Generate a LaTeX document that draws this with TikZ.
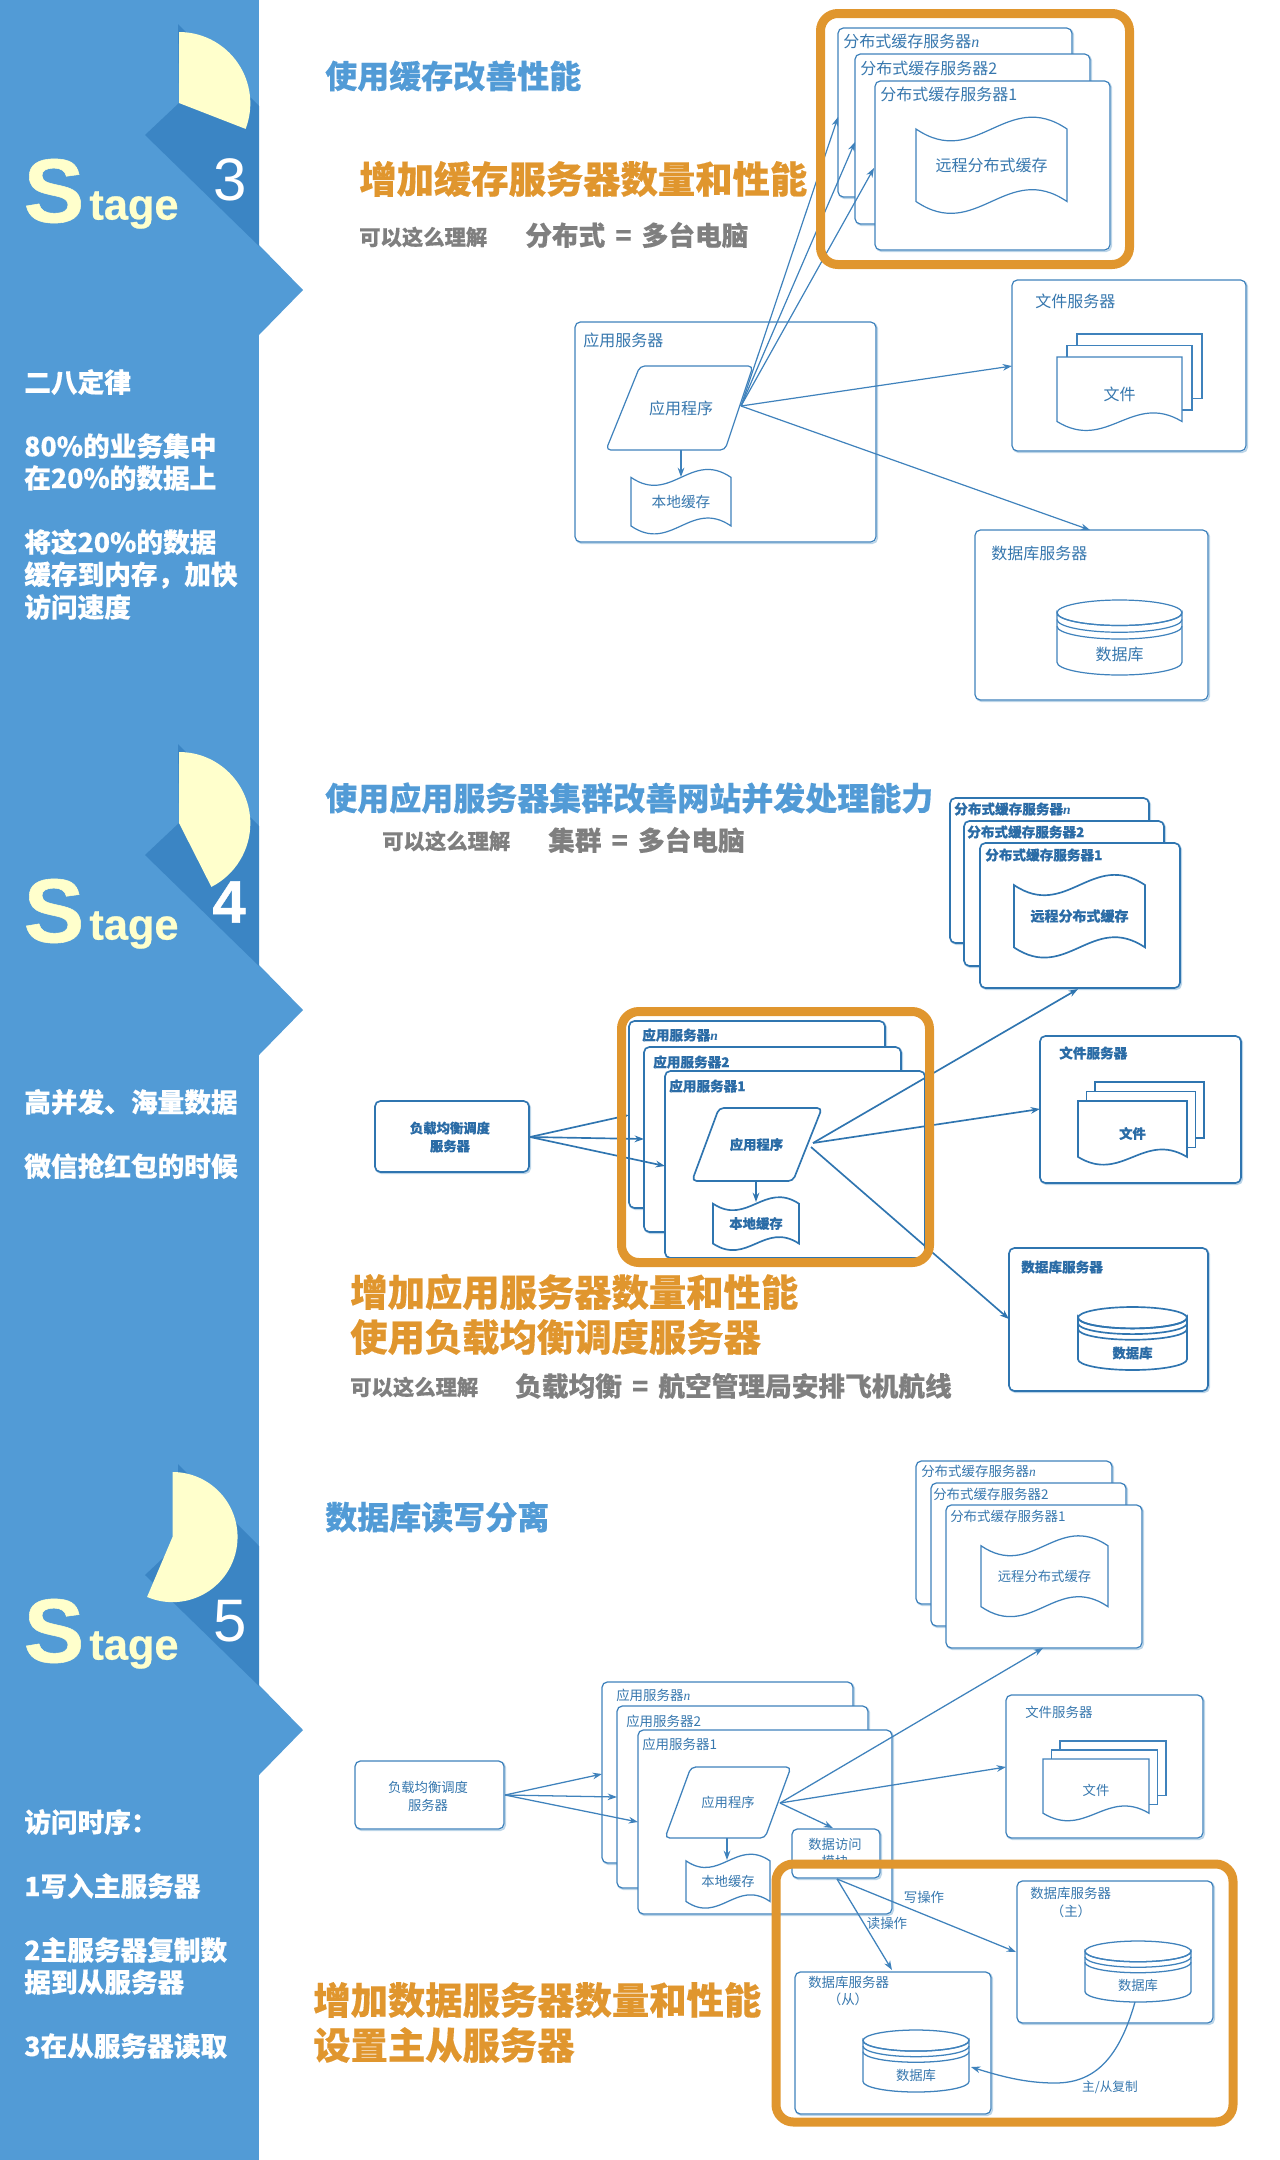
\documentclass[tikz,border=0pt]{standalone}
\usepackage{fontspec}
\usetikzlibrary{arrows.meta}
\setmainfont{Noto Sans CJK SC}[BoldFeatures={FakeBold=0.35}]
\newfontfamily\arialf{Liberation Sans}[BoldFeatures={FakeBold=0.6}]
\newfontfamily\serf{Liberation Serif}
\definecolor{panel}{HTML}{529BD6}
\definecolor{panelD}{HTML}{3B85C4}
\definecolor{cream}{HTML}{FFFFCC}
\definecolor{orng}{HTML}{E0962E}
\definecolor{grayt}{HTML}{7F7F7F}
\definecolor{ln}{HTML}{3F82BC}
\definecolor{shd}{HTML}{BCD5E8}
\definecolor{dtx}{HTML}{3677AE}
\newcommand\fs[2]{\fontsize{#1}{#2}\selectfont}
\newcommand\nn{{\serf\itshape n}}
\newcommand\lw{0.9pt}
\newcommand\eqs{\hspace{3pt} = \hspace{3pt}}
\tikzset{
  card/.style={draw=ln,fill=white,line width=\lw,rounded corners=4pt,inner sep=0pt,outer sep=0pt,
    preaction={draw=shd,line width=1.2pt,transform canvas={xshift=1pt,yshift=-1pt}}},
  shapeline/.style={draw=ln,fill=white,line width=\lw},
  arr/.style={draw=ln,line width=\lw,-{Stealth[length=7pt,width=5pt]}},
  dtext/.style={inner sep=0pt,text=dtx},
  labl/.style={dtext,anchor=west},
  titleb/.style={inner sep=0pt,anchor=west,text=panel,font=\bfseries\fs{24}{24}},
  titleo/.style={inner sep=0pt,anchor=west,text=orng,font=\bfseries\fs{28}{28}},
  graya/.style={inner sep=0pt,anchor=west,text=grayt,font=\bfseries\fs{16}{16}},
  grayb/.style={inner sep=0pt,anchor=west,text=grayt,font=\bfseries\fs{20}{20}},
  lefttext/.style={inner sep=0pt,anchor=west,text=white,font=\bfseries\fs{20}{21}},
  orangebox/.style={draw=orng,line width=6.75pt,rounded corners=13pt},
  bigS/.style={inner sep=0pt,text=cream,font=\arialf\bfseries\fs{68}{68}},
  tage/.style={inner sep=0pt,text=cream,font=\arialf\bfseries\fs{32.5}{33}},
  stagenum/.style={inner sep=0pt,text=white,font=\arialf\fs{45}{45}},
}
\newcommand\cardbox[5]{%
  \pgfmathsetmacro\ww{(#4-#2)*0.75}\pgfmathsetmacro\hh{(#5-#3)*0.75}%
  \node[card,minimum width=\ww pt,minimum height=\hh pt] (#1) at ({(#2+#4)/2},{(#3+#5)/2}) {};}
% wave document: name x1 y1 x2 y2 font text
\newcommand\wavedoc[7]{%
  \pgfmathsetmacro\ww{(#4-#2)*0.75}\pgfmathsetmacro\hh{(#5-#3)*0.75}%
  \begin{scope}[shift={(#2,#3)},x=\ww pt,y=-\hh pt]
    \draw[shapeline] (0,.14) .. controls (.4,.55) and (.6,-.27) .. (1,.14) -- (1,.865)
      .. controls (.6,.455) and (.4,1.275) .. (0,.865) -- cycle;
  \end{scope}
  \node[dtext,font=#6] (#1) at ({(#2+#4)/2},{(#3+#5)/2}) {#7};}
% file stack: name x1 y1 x2 y2 dx dy font text
\newcommand\filestack[9]{%
  \pgfmathsetmacro\ww{(#4-#2)*0.75}\pgfmathsetmacro\hh{(#5-#3)*0.75}%
  \pgfmathsetmacro\ee{#3+0.86*(#5-#3)}%
  \draw[shapeline] ({#2+2*#6},{#3-2*#7}) rectangle ({#4+2*#6},{\ee-2*#7});
  \draw[shapeline] ({#2+#6},{#3-#7}) rectangle ({#4+#6},{\ee-#7});
  \begin{scope}[shift={(#2,#3)},x=\ww pt,y=-\hh pt]
    \draw[shapeline] (0,0) -- (1,0) -- (1,.86)
      .. controls (.6,.46) and (.4,1.27) .. (0,.86) -- cycle;
  \end{scope}
  \def\tmpfont{#8}\def\tmptxt{#9}%
  \node[dtext,font=\tmpfont] (#1) at ({(#2+#4)/2},{#3+0.5*(#5-#3)}) {\tmptxt};}
% cylinder: name x1 y1 x2 y2 font text
\newcommand\dbcyl[7]{%
  \pgfmathsetmacro\rx{(#4-#2)*0.375}\pgfmathsetmacro\ry{(#5-#3)*0.75*0.17}%
  \pgfmathsetmacro\ryy{(#5-#3)*0.17}\pgfmathsetmacro\gp{(#5-#3)*0.09}%
  \draw[shapeline] (#2,{#3+\ryy}) -- (#2,{#5-\ryy}) arc[start angle=180,end angle=360,x radius=\rx pt,y radius=\ry pt]
     -- (#4,{#3+\ryy}) arc[start angle=0,end angle=-180,x radius=\rx pt,y radius=\ry pt] -- cycle;
  \draw[draw=ln,line width=\lw] ({(#2+#4)/2},{#3+\ryy}) ellipse[x radius=\rx pt,y radius=\ry pt];
  \draw[draw=ln,line width=\lw] (#2,{#3+\ryy+\gp}) arc[start angle=180,end angle=360,x radius=\rx pt,y radius=\ry pt];
  \draw[draw=ln,line width=\lw] (#2,{#3+\ryy+2*\gp}) arc[start angle=180,end angle=360,x radius=\rx pt,y radius=\ry pt];
  \node[dtext,font=#6] (#1) at ({(#2+#4)/2},{#3+0.73*(#5-#3)}) {#7};}
% parallelogram: name xTL xTR xBR xBL yT yB font+text
\newcommand\appshape[8]{%
  \draw[shapeline,rounded corners=3.5pt] (#2,#6) -- (#3,#6) -- (#4,#7) -- (#5,#7) -- cycle;
  \node[dtext] (#1) at ({(#2+#3+#4+#5)/4},{(#6+#7)/2}) {#8};}
\begin{document}
\begin{tikzpicture}[x=0.75pt,y=-0.75pt]
\useasboundingbox (0,0) rectangle (1280,2160);
% ================ left panel
\fill[panel] (0,0) rectangle (259,2160);
\fill[panel] (259,245) -- (303,290) -- (259,335) -- cycle;
\fill[panel] (259,965) -- (303,1010) -- (259,1055) -- cycle;
\fill[panel] (259,1685) -- (303,1730) -- (259,1775) -- cycle;
\fill[panelD] (178,24) -- (259,106) -- (259,246) -- (145,135) -- (179,103) -- cycle;
\fill[panelD] (178,744) -- (259,826) -- (259,966) -- (145,855) -- (179,823) -- cycle;
\fill[panelD] (178,1464) -- (259,1546) -- (259,1686) -- (145,1575) -- (179,1543) -- cycle;
\fill[cream] (179,103) -- (179,32) arc[start angle=90,end angle=-21,radius=53.5pt] -- cycle;
\fill[cream] (179,823) -- (179,752) arc[start angle=90,end angle=-63,radius=53.5pt] -- cycle;
\fill[cream] (172.5,1537) -- (172.5,1472) arc[start angle=90,end angle=-113,radius=48.8pt] -- cycle;
\node[bigS] (s3S) at (54,191) {S};
\node[tage] (s3t) at (134,210) {tage};
\node[stagenum] (s3n) at (230,180) {3};
\node[bigS] (s4S) at (54,911) {S};
\node[tage] (s4t) at (134,930) {tage};
\node[stagenum,font=\arialf\bfseries\fs{45}{45}] (s4n) at (229,902) {4};
\node[bigS] (s5S) at (54,1631) {S};
\node[tage] (s5t) at (134,1650) {tage};
\node[stagenum] (s5n) at (230,1621) {5};
% left texts
\node[lefttext] (a1) at (24,382) {二八定律};
\node[lefttext] (a2) at (24,446) {80\%的业务集中};
\node[lefttext] (a3) at (24,478) {在20\%的数据上};
\node[lefttext] (a4) at (24,542) {将这20\%的数据};
\node[lefttext] (a5) at (24,575) {缓存到内存，加快};
\node[lefttext] (a6) at (24,607) {访问速度};
\node[lefttext] (b1) at (24,1102) {高并发、海量数据};
\node[lefttext] (b2) at (24,1166) {微信抢红包的时候};
\node[lefttext] (c1) at (24,1822) {访问时序：};
\node[lefttext] (c2) at (24,1886) {1写入主服务器};
\node[lefttext] (c3) at (24,1950) {2主服务器复制数};
\node[lefttext] (c4) at (24,1982) {据到从服务器};
\node[lefttext] (c5) at (24,2046) {3在从服务器读取};
% ================ section 1
\node[titleb] (t1) at (325,76) {使用缓存改善性能};
\node[titleo] (t1a) at (359,179) {增加缓存服务器数量和性能};
\node[graya] (t1b) at (359,237) {可以这么理解};
\node[grayb] (t1c) at (525,235) {分布式\eqs 多台电脑};
\def\fa{\fs{12}{12}}
\cardbox{s1cn}{838}{28}{1072}{197}
\node[labl,font=\fa] (s1cnl) at (843,41) {分布式缓存服务器\nn};
\cardbox{s1c2}{855}{54}{1090}{224}
\node[labl,font=\fa] (s1c2l) at (860,68) {分布式缓存服务器2};
\cardbox{s1c1}{875}{81}{1110}{250}
\node[labl,font=\fa] (s1c1l) at (880,94) {分布式缓存服务器1};
\wavedoc{s1rd}{916}{115}{1067}{215}{\fs{12}{12}}{远程分布式缓存}
\cardbox{s1app}{575}{322}{876}{542}
\node[labl,font=\fs{12}{12}] (s1appl) at (583,340) {应用服务器};
\appshape{s1prog}{640}{753}{725}{606}{366}{450}{\fs{12}{12}应用程序}
\wavedoc{s1ld}{631}{468}{731}{535}{\fs{11}{11}}{本地缓存}
\cardbox{s1f}{1012}{280}{1246}{451}
\node[labl,font=\fs{12}{12}] (s1fl) at (1035,301) {文件服务器};
\filestack{s1files}{1057}{357}{1182}{432}{10}{11.5}{\fs{12}{12}}{文件}
\cardbox{s1d}{975}{530}{1208}{700}
\node[labl,font=\fs{12}{12}] (s1dl) at (991,553) {数据库服务器};
\dbcyl{s1db}{1057}{600}{1182}{675}{\fs{12}{12}}{数据库}
\coordinate (s1p) at (741,406);
\coordinate (s1i1) at (838,117);
\coordinate (s1i2) at (855,142);
\coordinate (s1i3) at (874,168);
\coordinate (s1i4) at (1012,366);
\coordinate (s1i5) at (1090,530);
\coordinate (s1o6) at (681,450);
\coordinate (s1i6) at (681,477);
\draw[arr] (s1p) -- (s1i1);
\draw[arr] (s1p) -- (s1i2);
\draw[arr] (s1p) -- (s1i3);
\draw[arr] (s1p) -- (s1i4);
\draw[arr] (s1p) -- (s1i5);
\draw[arr] (s1o6) -- (s1i6);
\draw[orangebox] (820.5,13.5) rectangle (1129.5,264.5);
% ================ section 2
\renewcommand\lw{1.25pt}
\definecolor{ln}{HTML}{2F75B0}
\definecolor{dtx}{HTML}{2B6CA6}
\node[titleb] (t2) at (325,798) {使用应用服务器集群改善网站并发处理能力};
\node[graya] (t2b) at (382,841) {可以这么理解};
\node[grayb] (t2c) at (548,840) {集群\eqs 多台电脑};
\node[titleo] (t2d) at (350,1292) {增加应用服务器数量和性能};
\node[titleo] (t2e) at (350,1337) {使用负载均衡调度服务器};
\node[graya] (t2f) at (350,1387) {可以这么理解};
\node[grayb] (t2g) at (515,1386) {负载均衡\eqs 航空管理局安排飞机航线};
\def\fb{\bfseries\fs{10.2}{10.2}}
\cardbox{s2cn}{950}{798}{1149}{943}
\node[labl,font=\fb] (s2cnl) at (954,809) {分布式缓存服务器\nn};
\cardbox{s2c2}{964}{821}{1164}{966}
\node[labl,font=\fb] (s2c2l) at (967,832) {分布式缓存服务器2};
\cardbox{s2c1}{980}{843}{1180}{988}
\node[labl,font=\fb] (s2c1l) at (985,855) {分布式缓存服务器1};
\wavedoc{s2rd}{1014}{873}{1145}{959}{\bfseries\fs{10.5}{11}}{远程分布式缓存}
\cardbox{s2lb}{375}{1101}{529}{1172}
\node[dtext,align=center,font=\bfseries\fs{10}{13.5}] (s2lbl) at (450,1137) {负载均衡调度\\服务器};
\cardbox{s2an}{629}{1021}{885}{1208}
\node[labl,font=\fb] (s2anl) at (642,1035) {应用服务器\nn};
\cardbox{s2a2}{644}{1047}{901}{1232}
\node[labl,font=\fb] (s2a2l) at (653,1062) {应用服务器2};
\cardbox{s2a1}{665}{1071}{925}{1258}
\node[labl,font=\fb] (s2a1l) at (669,1086) {应用服务器1};
\appshape{s2prog}{719}{822}{793}{692}{1108}{1181}{\bfseries\fs{10}{10}应用程序}
\wavedoc{s2ld}{713}{1196}{799}{1251}{\bfseries\fs{10}{10}}{本地缓存}
\cardbox{s2f}{1040}{1036}{1241}{1183}
\node[labl,font=\fb] (s2fl) at (1059,1053) {文件服务器};
\filestack{s2files}{1078}{1101}{1187}{1166}{8.5}{9.5}{\bfseries\fs{10}{10}}{文件}
\cardbox{s2d}{1009}{1248}{1208}{1391}
\node[labl,font=\fb] (s2dl) at (1021,1267) {数据库服务器};
\dbcyl{s2db}{1078}{1307}{1187}{1370}{\bfseries\fs{10}{10}}{数据库}
\coordinate (s2lo) at (530,1137);
\coordinate (s2i1) at (629,1115);
\coordinate (s2i2) at (644,1139);
\coordinate (s2i3) at (665,1166);
\coordinate (s2p) at (813,1143);
\coordinate (s2p2) at (811,1147);
\coordinate (s2i4) at (1078,989);
\coordinate (s2i5) at (1040,1109);
\coordinate (s2i6) at (1009,1319);
\coordinate (s2o7) at (756,1181);
\coordinate (s2i7) at (756,1202);
\draw[arr] (s2lo) -- (s2i1);
\draw[arr] (s2lo) -- (s2i2);
\draw[arr] (s2lo) -- (s2i3);
\draw[arr] (s2p) -- (s2i4);
\draw[arr] (s2p) -- (s2i5);
\draw[arr] (s2p2) -- (s2i6);
\draw[arr] (s2o7) -- (s2i7);
\draw[orangebox] (621.5,1011.5) rectangle (929.5,1262.5);
% ================ section 3
\renewcommand\lw{0.95pt}
\definecolor{ln}{HTML}{3F82BC}
\definecolor{dtx}{HTML}{3677AE}
\node[titleb] (t3) at (325,1517) {数据库读写分离};
\node[titleo] (t3a) at (313,2000) {增加数据服务器数量和性能};
\node[titleo] (t3b) at (313,2045) {设置主从服务器};
\def\fc{\fs{10.1}{10.1}}
\cardbox{s3cn}{916}{1461}{1112}{1604}
\node[labl,font=\fc] (s3cnl) at (921,1471) {分布式缓存服务器\nn};
\cardbox{s3c2}{931}{1483}{1126}{1626}
\node[labl,font=\fc] (s3c2l) at (933,1494) {分布式缓存服务器2};
\cardbox{s3c1}{946}{1505}{1142}{1648}
\node[labl,font=\fc] (s3c1l) at (950,1516) {分布式缓存服务器1};
\wavedoc{s3rd}{981}{1534}{1108}{1618}{\fs{10}{10}}{远程分布式缓存}
\cardbox{s3lb}{355}{1761}{504}{1829}
\node[dtext,align=center,font=\fs{10}{13.5}] (s3lbl) at (428,1796) {负载均衡调度\\服务器};
\cardbox{s3an}{602}{1682}{853}{1863}
\node[labl,font=\fc] (s3anl) at (616,1695) {应用服务器\nn};
\cardbox{s3a2}{617}{1706}{868}{1888}
\node[labl,font=\fc] (s3a2l) at (626,1721) {应用服务器2};
\cardbox{s3a1}{638}{1730}{892}{1914}
\node[labl,font=\fc] (s3a1l) at (642,1744) {应用服务器1};
\appshape{s3prog}{691}{791}{765}{665}{1767}{1838}{\fs{10}{10}应用程序}
\wavedoc{s3ld}{686}{1853}{770}{1909}{\fs{10}{10}}{本地缓存}
\cardbox{s3mod}{792}{1829}{880}{1878}
\node[dtext,align=center,font=\fs{10}{12.5}] (s3modl) at (835,1853) {数据访问\\模块};
\cardbox{s3f}{1006}{1695}{1203}{1838}
\node[labl,font=\fc] (s3fl) at (1025,1712) {文件服务器};
\filestack{s3files}{1043}{1759}{1149}{1822}{8.5}{9}{\fs{10}{10}}{文件}
\cardbox{s3m}{1017}{1881}{1213}{2023}
\node[labl,font=\fc] (s3ml) at (1030,1893) {数据库服务器};
\node[dtext,font=\fc] (s3mm) at (1071,1911) {（主）};
\dbcyl{s3mdb}{1085}{1941}{1191}{2002}{\fs{10}{10}}{数据库}
\cardbox{s3s}{795}{1972}{991}{2114}
\node[labl,font=\fc] (s3sl) at (808,1982) {数据库服务器};
\node[dtext,font=\fc] (s3ss) at (848,1999) {（从）};
\dbcyl{s3sdb}{863}{2030}{969}{2092}{\fs{10}{10}}{数据库}
\node[dtext,font=\fc] (s3w) at (924,1897) {写操作};
\node[dtext,font=\fc] (s3r) at (887,1923) {读操作};
\node[dtext,font=\fs{9.5}{10}] (s3cp) at (1110,2087) {主/从复制};
\coordinate (s3lo) at (505,1795);
\coordinate (s3i1) at (602,1774);
\coordinate (s3i2) at (617,1797);
\coordinate (s3i3) at (638,1822);
\coordinate (s3p) at (780,1803);
\coordinate (s3i4) at (1043,1648);
\coordinate (s3i5) at (1006,1767);
\coordinate (s3i6) at (833,1828);
\coordinate (s3o7) at (727,1838);
\coordinate (s3i7) at (727,1860);
\coordinate (s3mo) at (837,1879);
\coordinate (s3i8) at (1016,1952);
\coordinate (s3i9) at (892,1970);
\coordinate (s3co) at (1135,2002);
\coordinate (s3ci) at (971,2067);
\draw[arr] (s3lo) -- (s3i1);
\draw[arr] (s3lo) -- (s3i2);
\draw[arr] (s3lo) -- (s3i3);
\draw[arr] (s3p) -- (s3i4);
\draw[arr] (s3p) -- (s3i5);
\draw[arr] (s3p) -- (s3i6);
\draw[arr] (s3o7) -- (s3i7);
\draw[arr] (s3mo) -- (s3i8);
\draw[arr] (s3mo) -- (s3i9);
\draw[arr] (s3co) .. controls (1118,2062) and (1092,2083) .. (1055,2083) .. controls (1025,2083) and (1000,2076) .. (s3ci);
\draw[orangebox] (776,1864) rectangle (1233,2122);
\end{tikzpicture}
\end{document}
